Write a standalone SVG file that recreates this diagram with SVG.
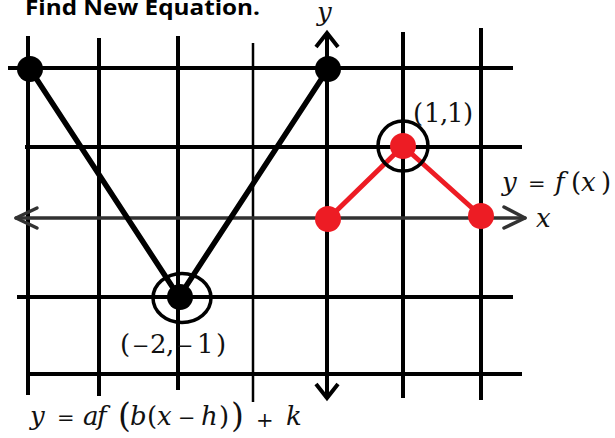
<svg xmlns="http://www.w3.org/2000/svg" width="615" height="438" viewBox="0 0 615 438">
<style>
.grid{stroke:#000;stroke-width:4;stroke-linecap:butt;fill:none}
.thin{stroke-width:2.5}
.axis{stroke:#333;stroke-width:3.5;fill:none;stroke-linecap:round;stroke-linejoin:round}
.math{font-family:"DejaVu Serif","Liberation Serif",serif;font-size:26px;fill:#111}
.it{font-style:italic}
.op{font-size:21px}
.big{font-size:33px}
.title{font-family:"Open Sans","Liberation Sans",sans-serif;font-weight:bold;font-size:22px;fill:#000}
</style>
<defs>
<filter id="soft" x="-5%" y="-50%" width="110%" height="200%"><feGaussianBlur stdDeviation="0.7"/></filter>
</defs>
<rect width="615" height="438" fill="#fff"/>
<text class="title" x="25" y="15" textLength="235" lengthAdjust="spacingAndGlyphs">Find New Equation.</text>
<g id="grid" class="grid">
<line x1="28" y1="36" x2="28" y2="395"/>
<line x1="99" y1="38" x2="99" y2="396"/>
<line x1="178" y1="36" x2="178" y2="390"/>
<line class="thin" x1="253" y1="43" x2="253" y2="402"/>
<line x1="403" y1="32" x2="403" y2="398"/>
<line x1="481" y1="28" x2="481" y2="400"/>
<line x1="8" y1="68" x2="513" y2="68"/>
<line x1="25" y1="147" x2="522" y2="147"/>
<line x1="17" y1="297" x2="513" y2="297"/>
<line x1="27" y1="374" x2="522" y2="374"/>
</g>
<g id="y-axis" class="grid">
<line x1="327" y1="33" x2="327" y2="398"/>
<polyline points="316,47 327,33 338,47"/>
<polyline points="316,384 327,398 338,384"/>
</g>
<g id="x-axis" class="axis" filter="url(#soft)">
<line x1="16" y1="218" x2="525" y2="218"/>
<polyline points="37,208 16,218 37,228"/>
<polyline points="504,207 525,218 504,228"/>
</g>
<g id="transformed-graph">
<polyline points="30,69 179,297 328,69" fill="none" stroke="#000" stroke-width="5.5" stroke-linejoin="round"/>
<circle cx="30" cy="69" r="13" fill="#000"/>
<circle cx="328" cy="69" r="13" fill="#000"/>
<circle cx="180" cy="297" r="13" fill="#000"/>
</g>
<g id="parent-graph">
<polyline points="328,219 403,146 481,216" fill="none" stroke="#ED1C24" stroke-width="5" stroke-linejoin="round"/>
<circle cx="328" cy="219" r="13" fill="#ED1C24"/>
<circle cx="403" cy="146" r="13" fill="#ED1C24"/>
<circle cx="481" cy="216" r="13" fill="#ED1C24"/>
</g>
<g id="highlights" fill="none" stroke="#000" stroke-width="3.5">
<circle cx="403" cy="146" r="25"/>
<ellipse cx="182" cy="298" rx="29" ry="24.5"/>
</g>
<g id="labels" class="math">
<text x="317" y="21" class="it">y</text>
<text x="536" y="227" class="it">x</text>
<text y="122"><tspan x="413">(</tspan><tspan x="424">1</tspan><tspan x="440">,</tspan><tspan x="447">1</tspan><tspan x="463">)</tspan></text>
<text y="191"><tspan x="502" class="it">y</tspan><tspan x="528" class="op">=</tspan><tspan x="555" class="it">f</tspan><tspan x="571">(</tspan><tspan x="581" class="it">x</tspan><tspan x="601">)</tspan></text>
<text y="353"><tspan x="120">(</tspan><tspan x="132" class="op">−</tspan><tspan x="150">2</tspan><tspan x="166">,</tspan><tspan x="176" class="op">−</tspan><tspan x="197">1</tspan><tspan x="216">)</tspan></text>
<text y="425"><tspan x="30" class="it">y</tspan><tspan x="57" class="op">=</tspan><tspan x="83" class="it">a</tspan><tspan x="97" class="it">f</tspan><tspan x="118" y="427" class="big">(</tspan><tspan x="130" y="425" class="it">b</tspan><tspan x="147">(</tspan><tspan x="157" class="it">x</tspan><tspan x="178" class="op">−</tspan><tspan x="201" class="it">h</tspan><tspan x="219">)</tspan><tspan x="231" y="427" class="big">)</tspan><tspan x="256" class="op">+</tspan><tspan x="286" y="425" class="it">k</tspan></text>
</g>
</svg>
